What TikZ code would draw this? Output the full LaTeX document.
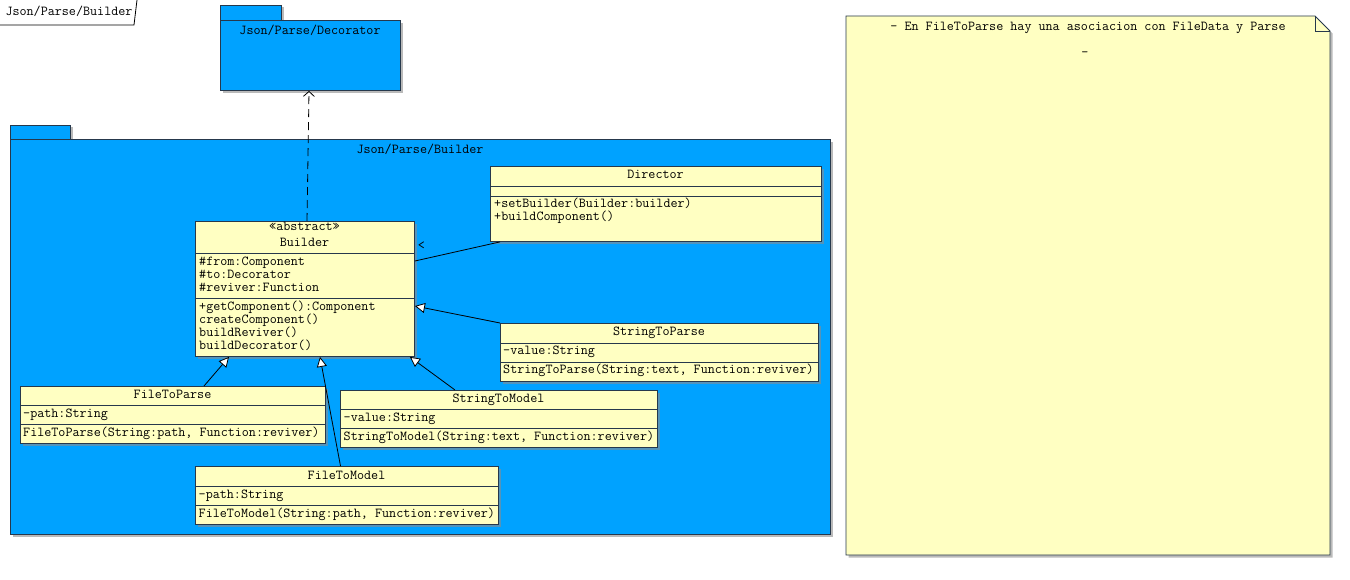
\documentclass[tikz,border=0pt]{standalone}
\usepackage{fontspec}
\usetikzlibrary{arrows.meta,calc,shadows}
\definecolor{pkgblue}{RGB}{0,162,255}
\definecolor{clsfill}{RGB}{255,255,194}
\definecolor{bord}{RGB}{38,56,76}
\tikzset{
  shade box/.style={drop shadow={shadow xshift=2.5pt,shadow yshift=-2.5pt,fill=black!45,opacity=0.6}},
  pkg/.style={draw=bord,fill=pkgblue,line width=0.9pt,shade box},
  clsbox/.style={rectangle,draw=bord,fill=clsfill,line width=0.9pt,anchor=north west,inner sep=0pt,shade box},
  sep/.style={draw=bord,line width=0.9pt},
  txt/.style={inner sep=0pt,text height=7.5pt,text depth=2pt},
  lt/.style={txt,anchor=west},
  ct/.style={txt,anchor=center},
  gen/.style={draw=black,line width=0.8pt,-{Triangle[length=10pt,width=10pt,fill=white]}},
  dep/.style={draw=black,line width=0.8pt,dash pattern=on 8pt off 5pt,-{Straight Barb[length=5pt,width=11pt]}},
  assoc/.style={draw=black,line width=0.8pt},
}
\begin{document}
\begin{tikzpicture}[x=1pt,y=-1pt,font=\ttfamily\fontsize{13.7}{13}\selectfont]
\useasboundingbox (0,0) rectangle (1350,580);

% diagram frame label
\draw[draw=black,line width=0.8pt] (0,25) -- (134,25) -- (137,0);
\node[ct] (framelbl) at (69,13) {Json/Parse/Builder};

% package Json/Parse/Decorator
\path[pkg] (220,5) rectangle (281,20);
\node[pkg,rectangle,anchor=north west,inner sep=0pt,minimum width=180pt,minimum height=70pt] (decorator) at (220,20) {};
\node[ct] at (310,31.5) {Json/Parse/Decorator};

% package Json/Parse/Builder
\path[pkg] (10,125) rectangle (70,139);
\node[pkg,rectangle,anchor=north west,inner sep=0pt,minimum width=820pt,minimum height=395pt] (buildpkg) at (10,139) {};
\node[ct] at (420,151) {Json/Parse/Builder};

% note
\path[draw=bord,fill=clsfill,line width=0.9pt,shade box]
  (846,16) -- (1315,16) -- (1330,31) -- (1330,555) -- (846,555) -- cycle;
\draw[draw=bord,line width=0.9pt] (1315,16) -- (1315,31) -- (1330,31);
\node[inner sep=0pt] (note) at (1088,285.5) {};
\node[ct] at (1088,28) {- En FileToParse hay una asociacion con FileData y Parse};
\node[ct] at (1085,54) {-};

% class Builder
\node[clsbox,minimum width=219pt,minimum height=135pt] (builder) at (195,221) {};
\draw[sep] (195,253) -- (414,253);
\draw[sep] (195,298.5) -- (414,298.5);
\node[ct] at (304.5,227.5) {«abstract»};
\node[ct] at (304.5,243.3) {Builder};
\node[lt] at (199,262.5) {\#from:Component};
\node[lt] at (199,275.3) {\#to:Decorator};
\node[lt] at (199,288.3) {\#reviver:Function};
\node[lt] at (199,307.5) {+getComponent():Component};
\node[lt] at (199,320.5) {createComponent()};
\node[lt] at (199,333.5) {buildReviver()};
\node[lt] at (199,346.5) {buildDecorator()};

% class Director
\node[clsbox,minimum width=331pt,minimum height=75pt] (director) at (490,166) {};
\draw[sep] (490,186) -- (821,186);
\draw[sep] (490,196.5) -- (821,196.5);
\node[ct] at (655.5,176) {Director};
\node[lt] at (494,204.5) {+setBuilder(Builder:builder)};
\node[lt] at (494,218) {+buildComponent()};

% class StringToParse
\node[clsbox,minimum width=318pt,minimum height=58pt] (stp) at (500,323) {};
\draw[sep] (500,343) -- (818,343);
\draw[sep] (500,362) -- (818,362);
\node[ct] at (659,332.5) {StringToParse};
\node[lt] at (503,351.5) {-value:String};
\node[lt] at (503,370.5) {StringToParse(String:text, Function:reviver)};

% class FileToParse
\node[clsbox,minimum width=305pt,minimum height=57pt] (ftp) at (20,386) {};
\draw[sep] (20,405) -- (325,405);
\draw[sep] (20,424) -- (325,424);
\node[ct] at (172.5,395.3) {FileToParse};
\node[lt] at (23,414.3) {-path:String};
\node[lt] at (23,433.5) {FileToParse(String:path, Function:reviver)};

% class StringToModel
\node[clsbox,minimum width=317pt,minimum height=57pt] (stm) at (340,390) {};
\draw[sep] (340,409) -- (657,409);
\draw[sep] (340,428.7) -- (657,428.7);
\node[ct] at (498.5,399.3) {StringToModel};
\node[lt] at (343.5,418.7) {-value:String};
\node[lt] at (343.5,437.7) {StringToModel(String:text, Function:reviver)};

% class FileToModel
\node[clsbox,minimum width=303pt,minimum height=58pt] (ftm) at (195,466) {};
\draw[sep] (195,486) -- (498,486);
\draw[sep] (195,505) -- (498,505);
\node[ct] at (346.5,476.7) {FileToModel};
\node[lt] at (198.5,495.3) {-path:String};
\node[lt] at (198.5,514.3) {FileToModel(String:path, Function:reviver)};

% dependency to the decorator package
\draw[dep] ($(builder.north west)+(112,0)$) -- ($(decorator.south west)+(89,0)$);

% association Builder -- Director
\draw[assoc] ($(builder.north east)+(0,40)$) -- ($(director.south west)+(10,0)$);
\node[ct] (navmark) at (421.5,247) {<};

% generalizations
\draw[gen] (stp.north west) -- ($(builder.north east)+(0,85)$);
\draw[gen] ($(ftp.north west)+(184,0)$) -- ($(builder.south west)+(34,0)$);
\draw[gen] ($(ftm.north west)+(145.5,0)$) -- ($(builder.south west)+(125,0)$);
\draw[gen] ($(stm.north west)+(115,0)$) -- ($(builder.south east)+(-5,0)$);
\end{tikzpicture}
\end{document}
